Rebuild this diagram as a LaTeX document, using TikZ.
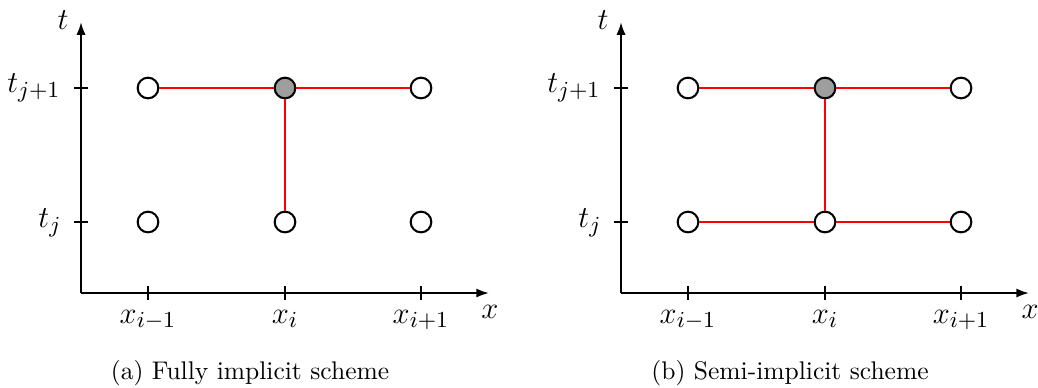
\documentclass[tikz,border=0pt]{standalone}
\usetikzlibrary{arrows.meta}
\begin{document}
\begin{tikzpicture}[x=0.392pt,y=-0.392pt,
  axis/.style={line width=0.8pt,-{Latex[length=5pt,width=3.6pt]}},
  ticks/.style={line width=0.5pt},
  gpt/.style={circle,draw,line width=0.8pt,minimum size=8.1pt,inner sep=0pt,fill=white},
  cur/.style={gpt,fill=black!38},
  link/.style={red,line width=0.6pt},
  lab/.style={inner sep=0pt,font=\fontsize{12.4}{14}\selectfont},
  captext/.style={inner sep=0pt,anchor=base,font=\fontsize{10}{12}\selectfont}]
\useasboundingbox (0,0) rectangle (1038,387);
\foreach \p/\s/\c in {a/0/{(a) Fully implicit scheme}, b/540/{(b) Semi-implicit scheme}}{
  \begin{scope}[xshift=\s*0.392pt]
    \coordinate (\p o) at (81,293);
    \coordinate (\p tt) at (81,22);
    \coordinate (\p xt) at (489,293);
    \draw[axis] (\p o) -- (\p tt);
    \draw[axis] (\p o) -- (\p xt);
    \foreach \xx/\n in {148/1,285/2,421/3}{
      \coordinate (\p xa\n) at (\xx,286);
      \coordinate (\p xb\n) at (\xx,300);
      \draw[ticks] (\p xa\n) -- (\p xb\n);
    }
    \foreach \yy/\n in {88/1,222/2}{
      \coordinate (\p ya\n) at (74,\yy);
      \coordinate (\p yb\n) at (88,\yy);
      \draw[ticks] (\p ya\n) -- (\p yb\n);
    }
    \node[lab,anchor=base] (\p lt) at (63,29) {$t$};
    \node[lab,anchor=base] (\p lx) at (490,318) {$x$};
    \node[lab,anchor=east] (\p ltj1) at (61,88) {$t_{j+1}$};
    \node[lab,anchor=east] (\p ltj) at (62,223) {$t_{j}$};
    \node[lab,anchor=base] (\p lx1) at (148,323) {$x_{i-1}$};
    \node[lab,anchor=base] (\p lx2) at (285,323) {$x_{i}$};
    \node[lab,anchor=base] (\p lx3) at (421,323) {$x_{i+1}$};
    \node[captext] (\p cap) at (250,379) {\c};
    \node[gpt] (\p u1) at (148,88) {};
    \node[cur] (\p u2) at (285,88) {};
    \node[gpt] (\p u3) at (421,88) {};
    \node[gpt] (\p d1) at (148,222) {};
    \node[gpt] (\p d2) at (285,222) {};
    \node[gpt] (\p d3) at (421,222) {};
    \draw[link] (\p u1) -- (\p u2);
    \draw[link] (\p u2) -- (\p u3);
    \draw[link] (\p u2) -- (\p d2);
  \end{scope}
}
\draw[link] (bd1) -- (bd2);
\draw[link] (bd2) -- (bd3);
\end{tikzpicture}
\end{document}
